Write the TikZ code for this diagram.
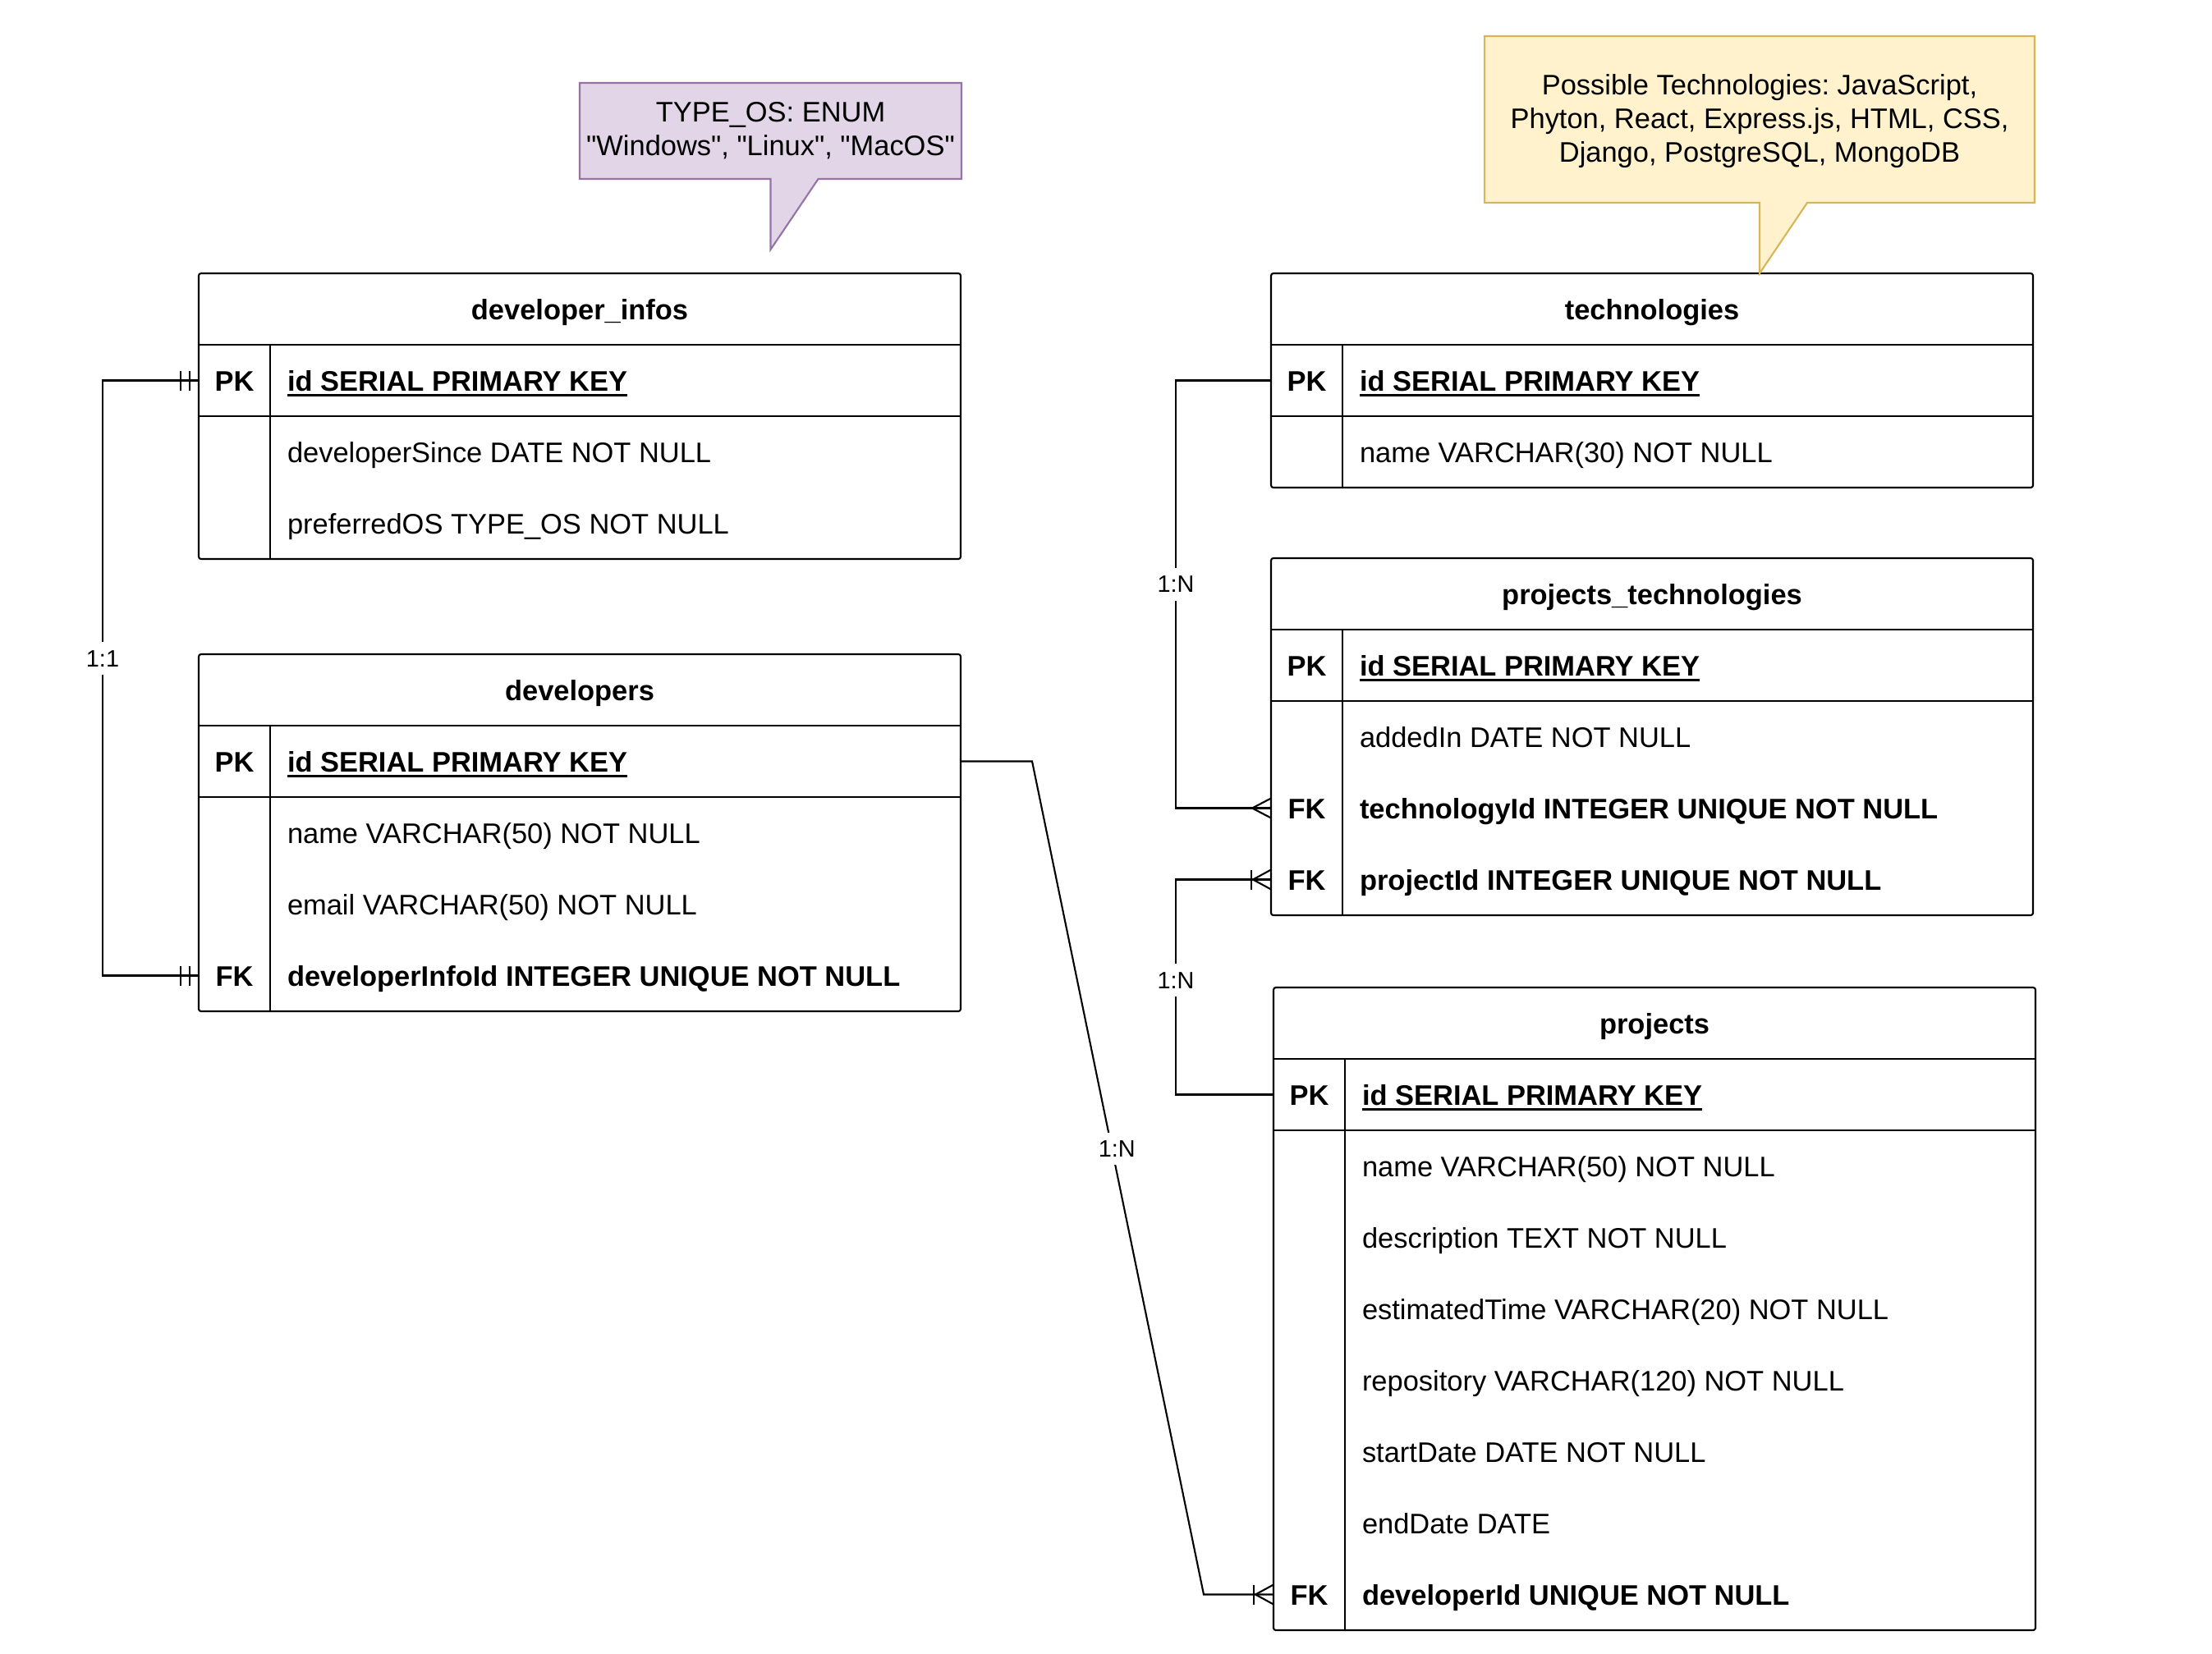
\documentclass[tikz,border=0pt]{standalone}
\usepackage{fontspec}
\setmainfont{Liberation Sans}
\usetikzlibrary{calc}
\definecolor{osfill}{HTML}{E1D5E7}
\definecolor{osline}{HTML}{9673A6}
\definecolor{techfill}{HTML}{FFF2CC}
\definecolor{techline}{HTML}{D6B656}
% underlined primary-key field
\newcommand\keyul[1]{\setbox0\hbox{#1}\rlap{\rule[-0.065cm]{\wd0}{0.022cm}}\box0}
\newcommand\sq{\textquotedbl}
\frenchspacing
\begin{document}
\begin{tikzpicture}[y=-1cm, line width=0.6pt, font=\fontsize{9.8}{11.6}\selectfont,
  tbl/.style={draw, rounded corners=0.8pt, anchor=north west, inner sep=0pt, outer sep=0pt, minimum width=9.28cm},
  hdr/.style={anchor=north, inner sep=0pt, outer sep=0pt, minimum height=0.87cm,
    font=\fontsize{9.8}{11.6}\selectfont\bfseries, text height=0.32cm, text depth=0.07cm},
  keyc/.style={anchor=north west, inner sep=0pt, outer sep=0pt, minimum width=0.87cm, minimum height=0.87cm,
    font=\fontsize{9.8}{11.6}\selectfont\bfseries, text height=0.32cm, text depth=0.07cm},
  fld/.style={anchor=west, inner sep=0pt, outer sep=0pt, text height=0.32cm, text depth=0.07cm},
  fkfld/.style={fld, font=\fontsize{9.8}{11.6}\selectfont\bfseries},
  conn/.style={draw, line join=miter},
  lbl/.style={fill=white, inner xsep=0.03cm, inner ysep=0.1cm, font=\fontsize{8.2}{9.8}\selectfont},
  notebox/.style={anchor=north west, inner sep=0pt, outer sep=0pt},
  notetext/.style={align=center, inner sep=0pt, font=\fontsize{9.8}{11.6}\selectfont},
  mandone/.pic={\draw (-0.22,-0.12) -- (-0.22,0.12); \draw (-0.11,-0.12) -- (-0.11,0.12);},
  crowmany/.pic={\draw (-0.23,0) -- (0,-0.12) (-0.23,0) -- (0,0.12);},
  onemany/.pic={\draw (-0.24,-0.12) -- (-0.24,0.12); \draw (-0.22,0) -- (0,-0.12) (-0.22,0) -- (0,0.12);}
]
\useasboundingbox (0,0) rectangle (26.94,20.14);

% ---------- developer_infos ----------
\node[tbl, minimum height=3.48cm] (di) at (2.42,3.33) {};
\node[hdr] (di-h) at (di.north) {developer\_infos};
\node[keyc] (di-pk) at (di-h.south -| di.west) {PK};
\node[keyc] (di-r1) at (di-pk.south west) {};
\node[keyc] (di-r2) at (di-r1.south west) {};
\node[fkfld] (di-pk-t) at ([xshift=0.21cm]di-pk.east) {\keyul{id SERIAL PRIMARY KEY}};
\node[fld] (di-r1-t) at ([xshift=0.21cm]di-r1.east) {developerSince DATE NOT NULL};
\node[fld] (di-r2-t) at ([xshift=0.21cm]di-r2.east) {preferredOS TYPE\_OS NOT NULL};
\draw (di-h.south -| di.west) -- (di-h.south -| di.east);
\draw (di-pk.south west) -- (di-pk.south -| di.east);
\draw (di-pk.north east) -- (di-pk.north east |- di.south);

% ---------- developers ----------
\node[tbl, minimum height=4.35cm] (dev) at (2.42,7.97) {};
\node[hdr] (dev-h) at (dev.north) {developers};
\node[keyc] (dev-pk) at (dev-h.south -| dev.west) {PK};
\node[keyc] (dev-r1) at (dev-pk.south west) {};
\node[keyc] (dev-r2) at (dev-r1.south west) {};
\node[keyc] (dev-fk) at (dev-r2.south west) {FK};
\node[fkfld] (dev-pk-t) at ([xshift=0.21cm]dev-pk.east) {\keyul{id SERIAL PRIMARY KEY}};
\node[fld] (dev-r1-t) at ([xshift=0.21cm]dev-r1.east) {name VARCHAR(50) NOT NULL};
\node[fld] (dev-r2-t) at ([xshift=0.21cm]dev-r2.east) {email VARCHAR(50) NOT NULL};
\node[fkfld] (dev-fk-t) at ([xshift=0.21cm]dev-fk.east) {developerInfoId INTEGER UNIQUE NOT NULL};
\draw (dev-h.south -| dev.west) -- (dev-h.south -| dev.east);
\draw (dev-pk.south west) -- (dev-pk.south -| dev.east);
\draw (dev-pk.north east) -- (dev-pk.north east |- dev.south);

% ---------- technologies ----------
\node[tbl, minimum height=2.61cm] (tech) at (15.48,3.33) {};
\node[hdr] (tech-h) at (tech.north) {technologies};
\node[keyc] (tech-pk) at (tech-h.south -| tech.west) {PK};
\node[keyc] (tech-r1) at (tech-pk.south west) {};
\node[fkfld] (tech-pk-t) at ([xshift=0.21cm]tech-pk.east) {\keyul{id SERIAL PRIMARY KEY}};
\node[fld] (tech-r1-t) at ([xshift=0.21cm]tech-r1.east) {name VARCHAR(30) NOT NULL};
\draw (tech-h.south -| tech.west) -- (tech-h.south -| tech.east);
\draw (tech-pk.south west) -- (tech-pk.south -| tech.east);
\draw (tech-pk.north east) -- (tech-pk.north east |- tech.south);

% ---------- projects_technologies ----------
\node[tbl, minimum height=4.35cm] (pt) at (15.48,6.80) {};
\node[hdr] (pt-h) at (pt.north) {projects\_technologies};
\node[keyc] (pt-pk) at (pt-h.south -| pt.west) {PK};
\node[keyc] (pt-r1) at (pt-pk.south west) {};
\node[keyc] (pt-tid) at (pt-r1.south west) {FK};
\node[keyc] (pt-pid) at (pt-tid.south west) {FK};
\node[fkfld] (pt-pk-t) at ([xshift=0.21cm]pt-pk.east) {\keyul{id SERIAL PRIMARY KEY}};
\node[fld] (pt-r1-t) at ([xshift=0.21cm]pt-r1.east) {addedIn DATE NOT NULL};
\node[fkfld] (pt-tid-t) at ([xshift=0.21cm]pt-tid.east) {technologyId INTEGER UNIQUE NOT NULL};
\node[fkfld] (pt-pid-t) at ([xshift=0.21cm]pt-pid.east) {projectId INTEGER UNIQUE NOT NULL};
\draw (pt-h.south -| pt.west) -- (pt-h.south -| pt.east);
\draw (pt-pk.south west) -- (pt-pk.south -| pt.east);
\draw (pt-pk.north east) -- (pt-pk.north east |- pt.south);

% ---------- projects ----------
\node[tbl, minimum height=7.83cm] (proj) at (15.51,12.03) {};
\node[hdr] (proj-h) at (proj.north) {projects};
\node[keyc] (proj-pk) at (proj-h.south -| proj.west) {PK};
\node[keyc] (proj-r1) at (proj-pk.south west) {};
\node[keyc] (proj-r2) at (proj-r1.south west) {};
\node[keyc] (proj-r3) at (proj-r2.south west) {};
\node[keyc] (proj-r4) at (proj-r3.south west) {};
\node[keyc] (proj-r5) at (proj-r4.south west) {};
\node[keyc] (proj-r6) at (proj-r5.south west) {};
\node[keyc] (proj-fk) at (proj-r6.south west) {FK};
\node[fkfld] (proj-pk-t) at ([xshift=0.21cm]proj-pk.east) {\keyul{id SERIAL PRIMARY KEY}};
\node[fld] (proj-r1-t) at ([xshift=0.21cm]proj-r1.east) {name VARCHAR(50) NOT NULL};
\node[fld] (proj-r2-t) at ([xshift=0.21cm]proj-r2.east) {description TEXT NOT NULL};
\node[fld] (proj-r3-t) at ([xshift=0.21cm]proj-r3.east) {estimatedTime VARCHAR(20) NOT NULL};
\node[fld] (proj-r4-t) at ([xshift=0.21cm]proj-r4.east) {repository VARCHAR(120) NOT NULL};
\node[fld] (proj-r5-t) at ([xshift=0.21cm]proj-r5.east) {startDate DATE NOT NULL};
\node[fld] (proj-r6-t) at ([xshift=0.21cm]proj-r6.east) {endDate DATE};
\node[fkfld] (proj-fk-t) at ([xshift=0.21cm]proj-fk.east) {developerId UNIQUE NOT NULL};
\draw (proj-h.south -| proj.west) -- (proj-h.south -| proj.east);
\draw (proj-pk.south west) -- (proj-pk.south -| proj.east);
\draw (proj-pk.north east) -- (proj-pk.north east |- proj.south);

% ---------- notes ----------
\node[notebox, minimum width=4.65cm, minimum height=1.17cm] (osnote) at (7.06,1.01) {};
\draw[draw=osline, fill=osfill] (osnote.south) -- (osnote.south west) -- (osnote.north west)
  -- (osnote.north east) -- (osnote.south east) -- ([xshift=0.58cm]osnote.south)
  -- ([yshift=-0.86cm]osnote.south) -- cycle;
\node[notetext] (ostext) at ([yshift=0.0cm]osnote.center)
  {TYPE\_OS: ENUM\\\sq Windows\sq, \sq Linux\sq, \sq MacOS\sq};

\node[notebox, minimum width=6.70cm, minimum height=2.03cm] (technote) at (18.08,0.44) {};
\draw[draw=techline, fill=techfill] (technote.south) -- (technote.south west) -- (technote.north west)
  -- (technote.north east) -- (technote.south east) -- ([xshift=0.58cm]technote.south)
  -- ([yshift=-0.86cm]technote.south) -- cycle;
\node[notetext] (techtext) at ([yshift=-0.02cm]technote.center)
  {Possible Technologies: JavaScript,\\Phyton, React, Express.js, HTML, CSS,\\Django, PostgreSQL, MongoDB};

% ---------- relationships ----------
\coordinate (lbus) at (1.25,0);
\coordinate (rbus) at (14.32,0);
\coordinate (dbend) at (12.57,0);
\coordinate (pbend) at (14.66,0);

\draw[conn] (di-pk.west) -- (di-pk.west -| lbus)
  -- node[lbl, pos=0.467] {1:1} (dev-fk.west -| lbus) -- (dev-fk.west);
\pic at (di-pk.west) {mandone};
\pic at (dev-fk.west) {mandone};

\draw[conn] (tech-pk.west) -- (tech-pk.west -| rbus)
  -- node[lbl, pos=0.477] {1:N} (pt-tid.west -| rbus) -- (pt-tid.west);
\pic at (pt-tid.west) {crowmany};

\draw[conn] (proj-pk.west) -- (proj-pk.west -| rbus)
  -- node[lbl, pos=0.532] {1:N} (pt-pid.west -| rbus) -- (pt-pid.west);
\pic at (pt-pid.west) {onemany};

\draw[conn] (dev-pk.west -| dev.east) -- (dev-pk.west -| dbend)
  -- node[lbl, pos=0.465, xshift=0.06cm] {1:N} (proj-fk.west -| pbend) -- (proj-fk.west);
\pic at (proj-fk.west) {onemany};
\end{tikzpicture}
\end{document}
